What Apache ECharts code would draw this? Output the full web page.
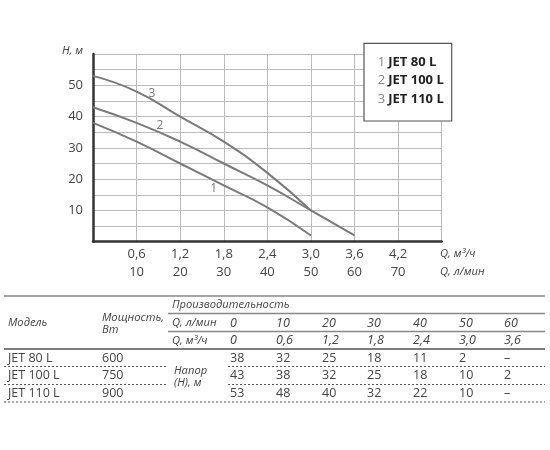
<!DOCTYPE html>
<html>
<head>
<meta charset="utf-8">
<script src="https://cdn.jsdelivr.net/npm/echarts@6/dist/echarts.min.js"></script>
<style>
  html, body { margin: 0; padding: 0; background: #fff; }
  #chart { width: 550px; height: 450px; }
</style>
</head>
<body>
<div id="chart"></div>
<script>
// flow points, m3/h and l/min
const qM3 = [0, 0.6, 1.2, 1.8, 2.4, 3.0, 3.6]
const qM3Text = ['0', '0,6', '1,2', '1,8', '2,4', '3,0', '3,6']
const qLminText = ['0', '10', '20', '30', '40', '50', '60']
const models = ['JET 80 L', 'JET 100 L', 'JET 110 L']
const powers = ['600', '750', '900']
// head, m (null = not available)
const head80 = [38, 32, 25, 18, 11, 2, null]
const head100 = [43, 38, 32, 25, 18, 10, 2]
const head110 = [53, 48, 40, 32, 22, 10, null]
const heads = [head80, head100, head110]
// curve number labels [q, h]
const curveLabels = [[1.66, 16.9], [0.92, 37.0], [0.81, 47.4]]

const FONT = '"Open Sans", sans-serif'
const txtColor = '#444'

function pairs(h) {
  const out = []
  h.forEach(function (v, i) { if (v !== null) out.push([qM3[i], v]) })
  return out
}

const chart = echarts.init(document.getElementById('chart'))

// table graphics
const g = []
function text(x, y, s, italic, align, size) {
  g.push({
    type: 'text', z: 5,
    style: {
      text: s, x: x, y: y,
      font: (italic ? 'italic ' : '') + (size || (italic ? 11.2 : 12.5)) + 'px ' + FONT,
      fill: txtColor, textAlign: align || 'left', textVerticalAlign: 'middle'
    }
  })
}
function line(x1, y1, x2, y2, color, width, dash) {
  g.push({
    type: 'line', z: 5,
    shape: { x1: x1, y1: y1, x2: x2, y2: y2 },
    style: { stroke: color, lineWidth: width, lineDash: dash || null }
  })
}
const colX = [230, 276, 322, 367, 413, 459, 504]
line(4, 296, 545, 296, '#888', 1.5)
line(168, 313.5, 545, 313.5, '#888', 1.5)
line(168, 331.5, 545, 331.5, '#888', 1.5)
line(4, 349, 545, 349, '#555', 1.5)
line(4, 366.5, 168, 366.5, '#555', 1, [2, 2])
line(228, 366.5, 545, 366.5, '#555', 1, [2, 2])
line(4, 384.5, 168, 384.5, '#555', 1, [2, 2])
line(228, 384.5, 545, 384.5, '#555', 1, [2, 2])
line(4, 402, 545, 402, '#555', 1, [2, 2])
text(172, 305, 'Производительность', true)
text(8, 323, 'Модель', true)
text(102, 317.5, 'Мощность,', true)
text(102, 330, 'Вт', true)
text(172, 323, 'Q, л/мин', true)
text(172, 340.5, 'Q, м³/ч', true)
qLminText.forEach(function (s, i) { text(colX[i], 323, s, true, 'left', 12.5) })
qM3Text.forEach(function (s, i) { text(colX[i], 340.5, s, true, 'left', 12.5) })
const rowY = [358, 375.5, 393]
models.forEach(function (m, r) {
  text(8, rowY[r], m, false)
  text(102, rowY[r], powers[r], false)
  heads[r].forEach(function (v, i) { text(colX[i], rowY[r], v === null ? '–' : String(v), false) })
})
text(174, 370.5, 'Напор', true)
text(174, 383, '(Н), м', true)
// axis titles
text(83, 50.5, 'Н, м', true, 'right')
text(440, 254, 'Q, м³/ч', true)
text(440, 271.5, 'Q, л/мин', true)
// legend box
g.push({
  type: 'rect', z: 10,
  shape: { x: 364, y: 43.3, width: 87.7, height: 77.7 },
  style: { fill: '#fff', stroke: '#555', lineWidth: 1.2 }
})

const option = {
  animation: false,
  textStyle: { fontFamily: FONT },
  grid: { left: 93, top: 54, right: 108.3, bottom: 208.3 },
  legend: {
    z: 20,
    orient: 'vertical',
    left: 371.7, top: 55.3,
    padding: 0,
    itemWidth: 0, itemHeight: 0, itemGap: 5.5,
    selectedMode: false,
    data: models,
    formatter: function (name) {
      return '{n|' + (models.indexOf(name) + 1) + '} {b|' + name + '}'
    },
    textStyle: {
      rich: {
        n: { color: '#888', fontSize: 13, lineHeight: 14, fontFamily: FONT },
        b: { color: '#222', fontSize: 13, fontWeight: 'bold', lineHeight: 14, fontFamily: FONT }
      }
    }
  },
  xAxis: {
    type: 'value', min: 0, max: 4.8, interval: 0.6,
    axisLine: { lineStyle: { color: '#333', width: 2.5 } },
    axisTick: { show: false },
    splitLine: { lineStyle: { color: '#bbb', width: 1 } },
    axisLabel: {
      color: txtColor, fontSize: 13, fontFamily: FONT, margin: 4, lineHeight: 17.5,
      showMinLabel: true, showMaxLabel: true,
      formatter: function (v) {
        if (v < 0.01 || v > 4.79) return ''
        return v.toFixed(1).replace('.', ',') + '\n' + Math.round(v * 1000 / 60)
      }
    }
  },
  yAxis: {
    type: 'value', min: 0, max: 60, interval: 5,
    axisLine: { show: true, lineStyle: { color: '#333', width: 2.5 } },
    axisTick: { show: false },
    splitLine: { lineStyle: { color: '#bbb', width: 1 } },
    axisLabel: {
      color: txtColor, fontSize: 13, fontFamily: FONT, margin: 10, padding: [0, 0, 5, 0],
      formatter: function (v) {
        return (v % 10 === 0 && v > 0 && v < 60) ? String(v) : ''
      }
    }
  },
  series: models.map(function (m, i) {
    return {
      name: m, type: 'line', smooth: 0.5, symbol: 'none',
      data: pairs(heads[i]),
      lineStyle: { color: '#7a7a7a', width: 2 },
      itemStyle: { color: '#7a7a7a' },
      markPoint: {
        symbol: 'circle', symbolSize: 0,
        label: { show: true, position: 'inside', color: '#777', fontSize: 12, fontFamily: FONT, formatter: String(i + 1) },
        data: [{ coord: curveLabels[i] }]
      }
    }
  }),
  graphic: g
}
chart.setOption(option)
</script>
</body>
</html>
